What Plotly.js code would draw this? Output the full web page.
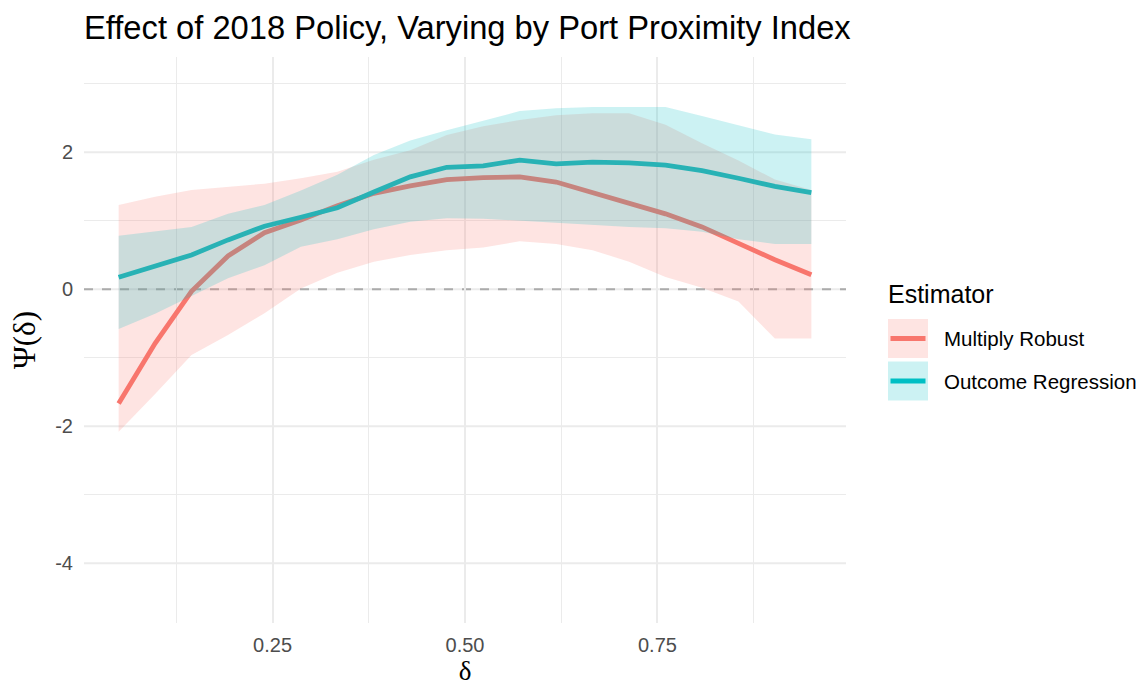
<!DOCTYPE html>
<html>
<head>
<meta charset="utf-8">
<script src="https://cdn.plot.ly/plotly-3.0.1.min.js"></script>
<style>html,body{margin:0;padding:0;background:#fff;}#chart{width:1147px;height:688px;}</style>
</head>
<body>
<div id="chart"></div>
<script>
// ---- data ----
const delta = [0.05, 0.0974, 0.1447, 0.1921, 0.2395, 0.2868, 0.3342, 0.3816, 0.4289, 0.4763,
               0.5237, 0.5711, 0.6184, 0.6658, 0.7132, 0.7605, 0.8079, 0.8553, 0.9026, 0.95];

const mrEst   = [-1.667, -0.79, -0.03, 0.485, 0.825, 1.01, 1.22, 1.40, 1.51, 1.60,
                 1.63, 1.64, 1.565, 1.41, 1.24, 1.10, 0.91, 0.67, 0.43, 0.21];
const mrUpper = [1.23, 1.35, 1.45, 1.49, 1.54, 1.62, 1.715, 1.89, 2.03, 2.25,
                 2.38, 2.47, 2.54, 2.57, 2.57, 2.40, 2.13, 1.88, 1.60, 1.45];
const mrLower = [-2.08, -1.53, -0.96, -0.67, -0.35, 0.01, 0.24, 0.40, 0.50, 0.57,
                 0.61, 0.70, 0.66, 0.57, 0.40, 0.18, 0.02, -0.18, -0.72, -0.72];

const orEst   = [0.175, 0.33, 0.50, 0.72, 0.92, 1.05, 1.19, 1.42, 1.64, 1.78,
                 1.80, 1.885, 1.83, 1.855, 1.845, 1.81, 1.73, 1.62, 1.50, 1.41];
const orUpper = [0.78, 0.84, 0.91, 1.10, 1.23, 1.44, 1.67, 1.96, 2.17, 2.32,
                 2.46, 2.60, 2.64, 2.66, 2.66, 2.66, 2.53, 2.40, 2.26, 2.19];
const orLower = [-0.58, -0.36, -0.10, 0.16, 0.35, 0.62, 0.73, 0.875, 0.985, 1.035,
                 1.03, 1.01, 0.97, 0.94, 0.91, 0.89, 0.84, 0.73, 0.66, 0.66];

const seriesNames = ["Multiply Robust", "Outcome Regression"];
const xTickVals = [0.25, 0.50, 0.75];
const xTickText = ["0.25", "0.50", "0.75"];
const yTickVals = [-4, -2, 0, 2];
const yTickText = ["-4", "-2", "0", "2"];
const refLineY = 0;

// ---- styles ----
const colMR = "#F8766D", colOR = "#00BFC4";
const fillMR = "rgba(248,118,109,0.2)", fillOR = "rgba(0,191,196,0.2)";
const lineW = 4.8;
const grid = "#ebebeb";

function ribbon(lo, hi, fill, name) {
  return {
    x: delta.concat(delta.slice().reverse()),
    y: hi.concat(lo.slice().reverse()),
    type: "scatter", mode: "lines", fill: "toself", fillcolor: fill,
    line: {width: 0, color: "rgba(0,0,0,0)"}, hoverinfo: "skip",
    showlegend: false, name: name + " band"
  };
}
function line(y, color, name) {
  return {x: delta, y: y, type: "scatter", mode: "lines",
          line: {color: color, width: lineW}, showlegend: false, name: name};
}

// lines first, ribbons drawn over them (as in the reference)
const traces = [
  line(mrEst, colMR, seriesNames[0]),
  line(orEst, colOR, seriesNames[1]),
  ribbon(mrLower, mrUpper, fillMR, seriesNames[0]),
  ribbon(orLower, orUpper, fillOR, seriesNames[1])
];

// panel geometry in pixels
const W = 1147, H = 688;
const pL = 84, pR = 846, pT = 57, pB = 623;
const px = v => (v - pL) / (pR - pL);
const py = v => (pB - v) / (pB - pT);

// major horizontal grid lines (drawn as shapes so the dashed zero line shows on top)
const gridShapes = yTickVals.map(v => ({type: "line", xref: "x domain", yref: "y",
  x0: 0, x1: 1, y0: v, y1: v, line: {color: grid, width: 2}, layer: "below"}));
const refShape = {type: "line", xref: "x domain", yref: "y", x0: 0, x1: 1,
  y0: refLineY, y1: refLineY, line: {color: "#ababab", width: 2, dash: "9px,9px"}, layer: "below"};

// manual ggplot-style legend
const legendShapes = [], legendAnn = [];
const keyCols = [[fillMR, colMR], [fillOR, colOR]];
const keyTop = [319, 361.5];
for (let i = 0; i < 2; i++) {
  const t = keyTop[i], b = t + 39;
  legendShapes.push({type: "rect", xref: "paper", yref: "paper",
    x0: px(888), x1: px(928), y0: py(b), y1: py(t),
    fillcolor: keyCols[i][0], line: {width: 0}});
  legendShapes.push({type: "line", xref: "paper", yref: "paper",
    x0: px(890.5), x1: px(925.5), y0: py((t + b) / 2), y1: py((t + b) / 2),
    line: {color: keyCols[i][1], width: lineW}});
  legendAnn.push({xref: "paper", yref: "paper", x: px(942), y: py((t + b) / 2),
    xanchor: "left", yanchor: "middle", showarrow: false, text: seriesNames[i],
    font: {family: "Liberation Sans, Arial, sans-serif", size: 20.5, color: "#000"}});
}
legendAnn.push({xref: "paper", yref: "paper", x: px(886), y: py(294),
  xanchor: "left", yanchor: "middle", showarrow: false, text: "Estimator",
  font: {family: "Liberation Sans, Arial, sans-serif", size: 25, color: "#000"}});

const layout = {
  width: W, height: H,
  margin: {l: pL, r: W - pR, t: pT, b: H - pB, pad: 0},
  paper_bgcolor: "#fff", plot_bgcolor: "#fff",
  showlegend: false,
  font: {family: "Liberation Sans, Arial, sans-serif", color: "#4d4d4d", size: 20},
  title: {text: "Effect of 2018 Policy, Varying by Port Proximity Index",
    font: {family: "Liberation Sans, Arial, sans-serif", size: 32.7, color: "#000"},
    xref: "paper", x: 0, xanchor: "left", yref: "container", y: 1 - 28 / H, yanchor: "middle"},
  xaxis: {range: [0.005, 0.995], tickmode: "array", tickvals: xTickVals, ticktext: xTickText,
    showgrid: true, gridcolor: grid, gridwidth: 2, zeroline: false, showline: false,
    ticks: "", ticklabelstandoff: 8,
    minor: {tickmode: "array", tickvals: [0.125, 0.375, 0.625, 0.875], showgrid: true, gridcolor: grid, gridwidth: 1, ticks: ""},
    tickfont: {size: 20, color: "#4d4d4d"},
    title: {text: "δ", font: {family: "Liberation Serif, Times New Roman, serif", size: 27, color: "#000"}, standoff: 6},
    automargin: false, fixedrange: true},
  yaxis: {range: [-4.873, 3.39], tickmode: "array", tickvals: yTickVals, ticktext: yTickText,
    showgrid: false, zeroline: false, showline: false,
    ticks: "", ticklabelstandoff: 10,
    minor: {tickmode: "array", tickvals: [-3, -1, 1, 3], showgrid: true, gridcolor: grid, gridwidth: 1, ticks: ""},
    tickfont: {size: 20, color: "#4d4d4d"},
    title: {text: "Ψ(δ)", font: {family: "Liberation Serif, Times New Roman, serif", size: 31, color: "#000"}, standoff: 10},
    automargin: false, fixedrange: true},
  shapes: gridShapes.concat([refShape], legendShapes),
  annotations: legendAnn
};

Plotly.newPlot("chart", traces, layout, {staticPlot: true, displayModeBar: false});
</script>
</body>
</html>
